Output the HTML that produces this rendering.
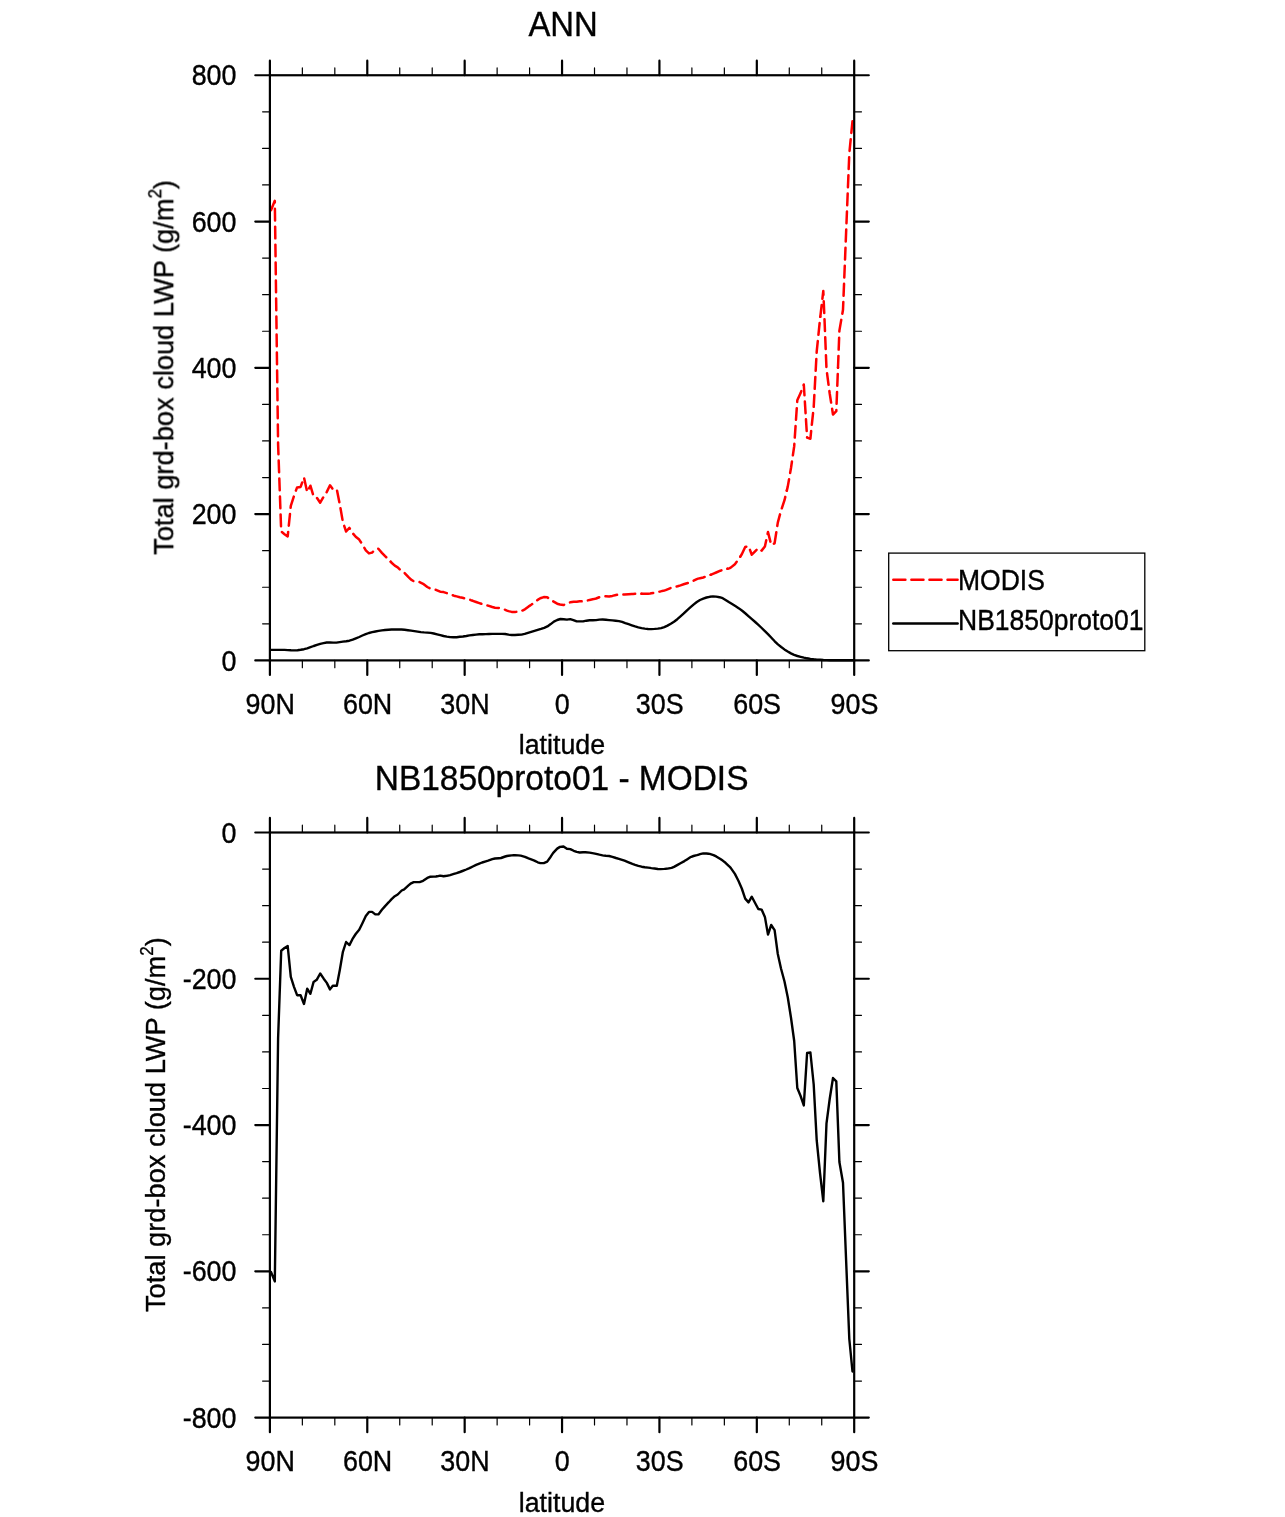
<!DOCTYPE html>
<html><head><meta charset="utf-8"><title>ANN</title>
<style>html,body{margin:0;padding:0;background:#fff}svg{display:block}text{font-family:"Liberation Sans",sans-serif;fill:#000;stroke:#000;stroke-width:0.35}g.t{opacity:.999}</style>
</head><body>
<svg width="1285" height="1517" viewBox="0 0 1285 1517">
<rect width="1285" height="1517" fill="#fff"/>
<g fill="none" stroke="#f00" stroke-width="2.5" stroke-linecap="round" stroke-linejoin="round">
<polyline points="271.0,210.2 274.8,200.8 278.1,444.2 281.2,531.5 284.5,534.2 287.7,536.4 290.8,505.8 294.0,495.9 297.1,487.4 300.6,486.9 304.0,477.5 307.2,492.0 310.4,485.7 313.6,496.4 316.7,497.5 320.2,502.7 323.7,496.6 326.8,491.9 330.0,485.3 332.8,489.2 336.8,489.2 339.8,504.4 342.9,522.1 346.1,531.5 349.4,527.9 352.4,532.9 355.7,536.8 359.2,539.6 362.3,544.4 365.8,550.3 369.0,553.4 372.1,552.6 375.3,549.4 378.4,548.8 381.9,552.9 385.1,556.2 388.8,559.7 390.8,561.8" stroke-dasharray="11.73 6.26"/>
<polyline points="390.8,561.8 391.6,562.7 394.8,565.6 397.7,567.3 401.7,571.3 404.2,572.7 408.5,577.2 411.1,579.7 413.7,581.2 417.6,581.8 419.6,582.1 423.1,583.8 427.3,587.0 429.9,588.3 433.8,589.2 435.9,589.8 437.1,590.3 440.2,591.7 443.6,592.1 446.8,593.1 447.9,593.5 450.1,594.3 453.9,595.7 456.6,596.4 459.8,597.2 462.5,597.8 466.3,598.8 469.5,599.7 470.2,599.9" stroke-dasharray="11.78 6.29"/>
<polyline points="470.2,599.9 471.0,600.2 472.8,600.8 476.1,602.0 479.3,603.1 482.1,604.0 485.8,605.0 488.1,605.6 492.3,607.0 495.0,607.7 498.8,608.0 501.0,608.2 505.2,609.8 507.0,610.6 508.5,611.1 511.7,611.9 513.8,612.0 515.0,612.0 518.2,611.7 520.7,611.4 524.9,609.3 528.0,607.0 529.2,606.1 531.2,604.8 534.4,602.6 537.7,599.9 540.3,598.3 543.8,597.1 547.2,597.3 550.7,599.7 553.2,601.4" stroke-dasharray="11.80 6.30"/>
<polyline points="553.2,601.4 557.2,603.7 560.0,604.5 563.5,605.1 566.9,603.1 570.3,602.3 573.7,601.7 576.7,601.7 579.7,601.2 583.1,601.4 585.4,601.1 589.6,599.9 593.7,599.1 596.1,598.5 599.4,597.2 602.6,596.4 604.0,596.3 605.9,596.3 609.1,596.4 612.4,595.9 616.0,595.0 618.9,594.6 622.1,594.4 624.5,594.5 628.6,594.2 631.8,593.9 633.1,593.9 635.1,593.8 638.3,593.7 641.5,593.7" stroke-dasharray="11.83 6.31"/>
<polyline points="641.5,593.7 641.6,593.7 644.8,593.7 648.1,593.7 650.2,593.5 651.3,593.3 654.6,592.7 657.8,591.9 660.5,591.4 664.3,590.5 665.6,590.1 667.5,589.3 671.6,587.6 674.0,587.1 677.6,586.3 680.5,585.4 684.4,584.0 687.0,583.2 690.3,582.4 691.3,582.0 693.5,580.8 696.8,579.1 698.1,578.6 700.0,578.2 703.3,577.5 706.5,576.2 708.4,575.6 709.7,575.2 710.6,574.8" stroke-dasharray="11.77 6.28"/>
<polyline points="710.6,574.8 713.5,573.6 716.2,572.5 720.4,570.7 722.7,569.9 725.5,569.4 727.5,568.8" stroke-dasharray="11.72 6.26"/>
<polyline points="727.5,568.8 729.2,568.4 730.7,567.6 734.9,564.2 738.4,559.6 740.3,556.6" stroke-dasharray="11.84 6.32"/>
<polyline points="740.3,556.6 741.8,554.3 745.2,547.0 748.5,546.1 751.8,554.7 755.1,551.3 758.3,548.1 761.6,550.6 764.9,546.5 768.0,532.0 771.2,544.9 774.6,543.3 777.8,522.6 781.0,510.7 784.5,500.2 786.8,490.6" stroke-dasharray="11.93 6.37"/>
<polyline points="786.8,490.6 787.8,486.4 791.0,468.0 794.2,446.2 797.3,400.3 800.6,393.1 803.8,384.5 807.1,437.6 810.4,438.7 811.8,424.8" stroke-dasharray="11.66 6.22"/>
<polyline points="811.8,424.8 813.7,407.1 816.7,351.7 820.0,319.3 820.3,316.8" stroke-dasharray="11.77 6.29"/>
<polyline points="820.3,316.8 823.3,291.0 824.5,319.2" stroke-dasharray="11.80 6.30"/>
<polyline points="824.5,319.2 826.5,369.1 829.7,393.5 833.0,414.6 836.3,411.2 838.0,367.7" stroke-dasharray="11.74 6.27"/>
<polyline points="838.0,367.7 839.4,330.6 843.0,309.8 846.1,232.6 849.3,153.6 852.5,121.1" stroke-dasharray="11.80 6.30"/>
</g>
<polyline points="271.1,649.9 271.5,649.9 274.8,649.9 278.0,649.9 281.3,649.9 284.5,649.9 287.8,650.1 291.0,650.3 294.2,650.4 297.5,650.2 300.7,649.8 304.0,649.2 307.2,648.4 310.5,647.2 313.7,646.0 317.0,644.9 320.2,643.8 323.5,643.1 326.7,642.5 330.0,642.4 333.2,642.6 336.4,642.6 339.7,642.1 342.9,641.6 346.2,641.2 349.4,640.7 352.7,639.7 355.9,638.4 359.2,637.0 362.4,635.5 365.7,634.2 368.9,633.0 372.2,632.2 375.4,631.5 378.6,630.9 381.9,630.4 385.1,630.0 388.4,629.7 391.6,629.5 394.9,629.5 398.1,629.5 401.4,629.5 404.6,629.8 407.9,630.2 411.1,630.6 414.4,631.1 417.6,631.6 420.8,632.1 424.1,632.4 427.3,632.6 430.6,632.9 433.8,633.5 437.1,634.3 440.3,635.1 443.6,636.0 446.8,636.6 450.1,637.1 453.3,637.3 456.6,637.2 459.8,636.8 463.0,636.5 466.3,636.0 469.5,635.4 472.8,635.0 476.0,634.6 479.3,634.3 482.5,634.2 485.8,634.1 489.0,634.0 492.3,633.9 495.5,633.9 498.8,633.9 502.0,633.9 505.2,634.0 508.5,634.6 511.7,635.0 515.0,635.0 518.2,634.8 521.5,634.6 524.7,633.9 528.0,632.9 531.2,631.9 534.5,630.9 537.7,629.9 541.0,628.9 544.2,627.8 547.4,626.4 550.7,624.1 553.9,621.6 557.2,620.0 560.4,619.0 563.7,619.3 566.9,619.6 570.2,619.1 573.4,620.1 576.7,621.4 579.9,621.4 583.1,621.4 586.4,620.7 589.6,620.3 592.9,620.2 596.1,620.1 599.4,619.6 602.6,619.5 605.9,619.8 609.1,620.1 612.4,620.4 615.6,620.7 618.9,621.1 622.1,621.9 625.3,623.1 628.6,624.2 631.8,625.3 635.1,626.4 638.3,627.3 641.6,628.1 644.8,628.6 648.1,629.0 651.3,629.1 654.6,628.9 657.8,628.6 661.1,628.1 664.3,627.1 667.5,625.6 670.8,623.7 674.0,621.7 677.3,619.2 680.5,616.4 683.8,613.4 687.0,610.3 690.3,607.4 693.5,604.6 696.8,602.0 700.0,600.0 703.3,598.6 706.5,597.5 709.7,596.8 713.0,596.4 716.2,596.6 719.5,597.2 722.7,598.2 726.0,600.2 729.2,602.3 732.5,604.3 735.7,606.3 739.0,608.4 742.2,610.8 745.5,613.5 748.7,616.4 751.9,619.2 755.2,622.0 758.4,624.9 761.7,628.0 764.9,631.2 768.2,634.4 771.4,637.8 774.7,641.3 777.9,644.4 781.2,647.0 784.4,649.4 787.7,651.5 790.9,653.4 794.1,654.9 797.4,656.0 800.6,656.8 803.9,657.6 807.1,658.3 810.4,658.9 813.6,659.3 816.9,659.6 820.1,659.8 823.4,660.0 826.6,660.1 829.9,660.2 833.1,660.3 836.3,660.3 839.6,660.3 842.8,660.3 846.1,660.3 849.3,660.3 852.6,660.3 853.0,660.3" fill="none" stroke="#000" stroke-width="2.4" stroke-linecap="round" stroke-linejoin="round"/>
<polyline points="271.0,1272.0 274.8,1281.4 278.1,1038.0 281.2,950.7 284.5,948.0 287.7,946.0 290.8,976.8 294.0,986.8 297.1,995.2 300.6,995.2 304.0,1004.0 307.2,988.7 310.4,993.8 313.6,981.9 316.7,979.8 320.2,973.5 323.7,978.7 326.8,982.9 330.0,989.4 332.8,985.7 336.8,985.7 339.8,970.0 342.9,951.8 346.1,942.0 349.4,945.1 352.4,939.2 355.7,934.0 359.2,929.7 362.3,923.5 365.8,916.1 369.0,911.9 372.1,911.9 375.3,914.4 378.4,914.4 381.9,909.8 385.1,906.1 388.8,902.2 391.6,899.1 394.8,896.2 397.7,894.5 401.7,890.5 404.2,889.3 408.5,885.4 411.1,883.3 413.7,882.1 417.6,882.1 419.6,882.1 423.1,880.8 427.3,877.9 429.9,876.8 433.8,876.6 435.9,876.5 437.1,876.3 440.2,875.6 443.6,876.2 446.8,875.8 447.9,875.6 450.1,875.1 453.9,873.9 456.6,873.1 459.8,872.0 462.5,871.0 466.3,869.5 469.5,868.1 471.0,867.4 472.8,866.5 476.1,864.9 479.3,863.6 482.1,862.5 485.8,861.4 488.1,860.7 492.3,859.2 495.0,858.5 498.8,858.2 501.0,858.0 505.2,856.5 507.0,856.0 508.5,855.8 511.7,855.4 513.8,855.3 515.0,855.3 518.2,855.4 520.7,855.6 524.9,856.8 528.0,858.2 529.2,858.7 531.2,859.4 534.4,860.6 537.7,862.3 540.3,863.1 543.8,863.1 547.2,861.6 550.7,856.7 553.2,852.9 557.2,848.6 560.0,846.9 563.5,846.5 566.9,848.8 570.3,849.1 573.7,850.8 576.7,851.9 579.7,852.5 583.1,852.3 585.4,852.2 589.6,852.6 593.7,853.4 596.1,853.9 599.4,854.7 602.6,855.4 604.0,855.6 605.9,855.8 609.1,856.0 612.4,856.8 616.0,858.0 618.9,858.8 622.1,859.8 624.5,860.6 628.6,862.3 631.8,863.7 633.1,864.2 635.1,864.9 638.3,865.9 641.6,866.7 644.8,867.2 648.1,867.6 650.2,867.9 651.3,868.1 654.6,868.5 657.8,869.0 660.5,869.1 664.3,868.9 665.6,868.8 667.5,868.6 671.6,867.9 674.0,866.9 677.6,864.9 680.5,863.3 684.4,861.1 687.0,859.4 690.3,857.3 691.3,856.8 693.5,856.0 696.8,855.2 698.1,854.8 700.0,854.2 703.3,853.4 706.5,853.5 708.4,853.7 709.7,853.9 713.5,855.1 716.2,856.4 720.4,859.0 722.7,860.6 725.5,862.8 729.2,866.3 730.7,867.9 734.9,873.9 738.4,880.8 741.8,888.5 745.2,898.6 748.5,902.4 751.8,896.7 755.1,903.0 758.3,909.0 761.6,909.6 764.9,916.9 768.0,934.6 771.2,925.0 774.6,930.2 777.8,954.0 781.0,968.5 784.5,981.5 787.8,997.5 791.0,1017.8 794.2,1041.0 797.3,1088.0 800.6,1096.0 803.8,1105.4 807.1,1053.0 810.4,1052.5 813.7,1084.5 816.7,1140.2 820.0,1172.8 823.3,1201.3 826.5,1123.3 829.7,1099.0 833.0,1078.0 836.3,1081.4 839.4,1162.0 843.0,1182.8 846.1,1260.0 849.3,1339.0 852.5,1371.5" fill="none" stroke="#000" stroke-width="2.4" stroke-linecap="round" stroke-linejoin="round"/>
<g stroke="#000" fill="none" stroke-linecap="round">
<rect x="269.9" y="75.25" width="584.3" height="585.15" stroke-width="2.2" stroke-linejoin="miter"/>
<path d="M269.90 75.25v-14.6M269.90 660.4v14.6M367.28 75.25v-14.6M367.28 660.4v14.6M464.67 75.25v-14.6M464.67 660.4v14.6M562.05 75.25v-14.6M562.05 660.4v14.6M659.43 75.25v-14.6M659.43 660.4v14.6M756.82 75.25v-14.6M756.82 660.4v14.6M854.20 75.25v-14.6M854.20 660.4v14.6M269.9 75.25h-14.6M854.2 75.25h14.6M269.9 221.54h-14.6M854.2 221.54h14.6M269.9 367.82h-14.6M854.2 367.82h14.6M269.9 514.11h-14.6M854.2 514.11h14.6M269.9 660.40h-14.6M854.2 660.40h14.6" stroke-width="2.2"/>
<path d="M302.36 75.25v-7.3M302.36 660.4v7.3M334.82 75.25v-7.3M334.82 660.4v7.3M399.74 75.25v-7.3M399.74 660.4v7.3M432.21 75.25v-7.3M432.21 660.4v7.3M497.13 75.25v-7.3M497.13 660.4v7.3M529.59 75.25v-7.3M529.59 660.4v7.3M594.51 75.25v-7.3M594.51 660.4v7.3M626.97 75.25v-7.3M626.97 660.4v7.3M691.89 75.25v-7.3M691.89 660.4v7.3M724.36 75.25v-7.3M724.36 660.4v7.3M789.28 75.25v-7.3M789.28 660.4v7.3M821.74 75.25v-7.3M821.74 660.4v7.3M269.9 111.82h-7.3M854.2 111.82h7.3M269.9 148.39h-7.3M854.2 148.39h7.3M269.9 184.97h-7.3M854.2 184.97h7.3M269.9 258.11h-7.3M854.2 258.11h7.3M269.9 294.68h-7.3M854.2 294.68h7.3M269.9 331.25h-7.3M854.2 331.25h7.3M269.9 404.40h-7.3M854.2 404.40h7.3M269.9 440.97h-7.3M854.2 440.97h7.3M269.9 477.54h-7.3M854.2 477.54h7.3M269.9 550.68h-7.3M854.2 550.68h7.3M269.9 587.26h-7.3M854.2 587.26h7.3M269.9 623.83h-7.3M854.2 623.83h7.3" stroke-width="1.2"/>
</g>
<g stroke="#000" fill="none" stroke-linecap="round">
<rect x="269.9" y="832.5" width="584.3" height="585.10" stroke-width="2.2" stroke-linejoin="miter"/>
<path d="M269.90 832.5v-14.6M269.90 1417.6v14.6M367.28 832.5v-14.6M367.28 1417.6v14.6M464.67 832.5v-14.6M464.67 1417.6v14.6M562.05 832.5v-14.6M562.05 1417.6v14.6M659.43 832.5v-14.6M659.43 1417.6v14.6M756.82 832.5v-14.6M756.82 1417.6v14.6M854.20 832.5v-14.6M854.20 1417.6v14.6M269.9 832.50h-14.6M854.2 832.50h14.6M269.9 978.77h-14.6M854.2 978.77h14.6M269.9 1125.05h-14.6M854.2 1125.05h14.6M269.9 1271.32h-14.6M854.2 1271.32h14.6M269.9 1417.60h-14.6M854.2 1417.60h14.6" stroke-width="2.2"/>
<path d="M302.36 832.5v-7.3M302.36 1417.6v7.3M334.82 832.5v-7.3M334.82 1417.6v7.3M399.74 832.5v-7.3M399.74 1417.6v7.3M432.21 832.5v-7.3M432.21 1417.6v7.3M497.13 832.5v-7.3M497.13 1417.6v7.3M529.59 832.5v-7.3M529.59 1417.6v7.3M594.51 832.5v-7.3M594.51 1417.6v7.3M626.97 832.5v-7.3M626.97 1417.6v7.3M691.89 832.5v-7.3M691.89 1417.6v7.3M724.36 832.5v-7.3M724.36 1417.6v7.3M789.28 832.5v-7.3M789.28 1417.6v7.3M821.74 832.5v-7.3M821.74 1417.6v7.3M269.9 869.07h-7.3M854.2 869.07h7.3M269.9 905.64h-7.3M854.2 905.64h7.3M269.9 942.21h-7.3M854.2 942.21h7.3M269.9 1015.34h-7.3M854.2 1015.34h7.3M269.9 1051.91h-7.3M854.2 1051.91h7.3M269.9 1088.48h-7.3M854.2 1088.48h7.3M269.9 1161.62h-7.3M854.2 1161.62h7.3M269.9 1198.19h-7.3M854.2 1198.19h7.3M269.9 1234.76h-7.3M854.2 1234.76h7.3M269.9 1307.89h-7.3M854.2 1307.89h7.3M269.9 1344.46h-7.3M854.2 1344.46h7.3M269.9 1381.03h-7.3M854.2 1381.03h7.3" stroke-width="1.2"/>
</g>
<rect x="888.7" y="553.1" width="256.1" height="97.6" fill="#fff" stroke="#000" stroke-width="1.3"/>
<path d="M893.3 579.8H957.6" stroke="#f00" stroke-width="2.5" stroke-dasharray="12.1 5.97" stroke-linecap="round" fill="none"/>
<path d="M893.3 623.6H957.6" stroke="#000" stroke-width="2.5" stroke-linecap="round" fill="none"/>
<g class="t">
<text transform="translate(270.20 714.10) scale(1.0 1.075)" font-size="26.9" text-anchor="middle">90N</text>
<text transform="translate(367.58 714.10) scale(1.0 1.075)" font-size="26.9" text-anchor="middle">60N</text>
<text transform="translate(464.97 714.10) scale(1.0 1.075)" font-size="26.9" text-anchor="middle">30N</text>
<text transform="translate(562.35 714.10) scale(1.0 1.075)" font-size="26.9" text-anchor="middle">0</text>
<text transform="translate(659.73 714.10) scale(1.0 1.075)" font-size="26.9" text-anchor="middle">30S</text>
<text transform="translate(757.12 714.10) scale(1.0 1.075)" font-size="26.9" text-anchor="middle">60S</text>
<text transform="translate(854.50 714.10) scale(1.0 1.075)" font-size="26.9" text-anchor="middle">90S</text>
<text transform="translate(236.50 85.35) scale(1.0 1.075)" font-size="26.9" text-anchor="end">800</text>
<text transform="translate(236.50 231.64) scale(1.0 1.075)" font-size="26.9" text-anchor="end">600</text>
<text transform="translate(236.50 377.93) scale(1.0 1.075)" font-size="26.9" text-anchor="end">400</text>
<text transform="translate(236.50 524.21) scale(1.0 1.075)" font-size="26.9" text-anchor="end">200</text>
<text transform="translate(236.50 670.50) scale(1.0 1.075)" font-size="26.9" text-anchor="end">0</text>
<text transform="translate(561.90 754.40) scale(1.0 1.012)" font-size="26.8" text-anchor="middle">latitude</text>
<text transform="translate(563.10 36.20) scale(0.987 1.075)" font-size="33.3" text-anchor="middle">ANN</text>
<text transform="translate(173.50 367.43) rotate(-90) scale(1.0 1.045)" font-size="27.25" text-anchor="middle">Total grd-box cloud LWP (g/m<tspan font-size="17" dy="-11.7">2</tspan><tspan dy="11.7">)</tspan></text>
<text transform="translate(270.20 1471.00) scale(1.0 1.075)" font-size="26.9" text-anchor="middle">90N</text>
<text transform="translate(367.58 1471.00) scale(1.0 1.075)" font-size="26.9" text-anchor="middle">60N</text>
<text transform="translate(464.97 1471.00) scale(1.0 1.075)" font-size="26.9" text-anchor="middle">30N</text>
<text transform="translate(562.35 1471.00) scale(1.0 1.075)" font-size="26.9" text-anchor="middle">0</text>
<text transform="translate(659.73 1471.00) scale(1.0 1.075)" font-size="26.9" text-anchor="middle">30S</text>
<text transform="translate(757.12 1471.00) scale(1.0 1.075)" font-size="26.9" text-anchor="middle">60S</text>
<text transform="translate(854.50 1471.00) scale(1.0 1.075)" font-size="26.9" text-anchor="middle">90S</text>
<text transform="translate(236.50 842.60) scale(1.0 1.075)" font-size="26.9" text-anchor="end">0</text>
<text transform="translate(236.50 988.88) scale(1.0 1.075)" font-size="26.9" text-anchor="end">-200</text>
<text transform="translate(236.50 1135.15) scale(1.0 1.075)" font-size="26.9" text-anchor="end">-400</text>
<text transform="translate(236.50 1281.42) scale(1.0 1.075)" font-size="26.9" text-anchor="end">-600</text>
<text transform="translate(236.50 1427.70) scale(1.0 1.075)" font-size="26.9" text-anchor="end">-800</text>
<text transform="translate(561.90 1511.60) scale(1.0 1.012)" font-size="26.8" text-anchor="middle">latitude</text>
<text transform="translate(561.60 789.60) scale(1.005 1.075)" font-size="33.3" text-anchor="middle">NB1850proto01 - MODIS</text>
<text transform="translate(165.30 1124.65) rotate(-90) scale(1.0 1.045)" font-size="27.25" text-anchor="middle">Total grd-box cloud LWP (g/m<tspan font-size="17" dy="-11.7">2</tspan><tspan dy="11.7">)</tspan></text>
<text transform="translate(958.05 589.50) scale(1.0 1.095)" font-size="26.5" text-anchor="start">MODIS</text>
<text transform="translate(958.05 630.30) scale(1.0 1.095)" font-size="26.5" text-anchor="start">NB1850proto01</text>
</g>
</svg></body></html>
